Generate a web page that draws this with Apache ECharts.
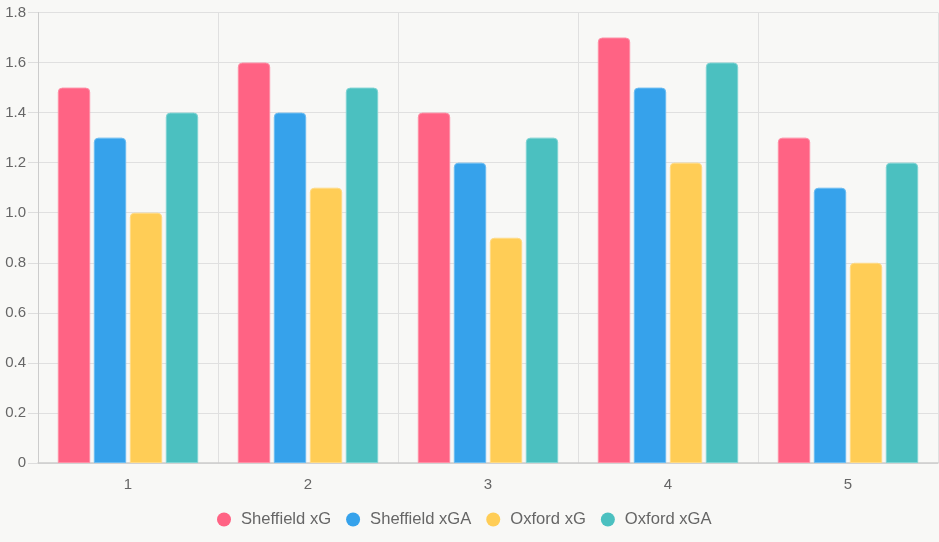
<!DOCTYPE html>
<html>
<head>
<meta charset="utf-8">
<script src="https://cdn.jsdelivr.net/npm/echarts@6/dist/echarts.min.js"></script>
<style>
  html, body { margin: 0; padding: 0; background: #f8f8f6; }
  #chart { width: 939px; height: 542px; }
</style>
</head>
<body>
<div id="chart"></div>
<script>
var categories = ['1', '2', '3', '4', '5'];
var sheffieldXG = [1.5, 1.6, 1.4, 1.7, 1.3];
var sheffieldXGA = [1.3, 1.4, 1.2, 1.5, 1.1];
var oxfordXG = [1.0, 1.1, 0.9, 1.2, 0.8];
var oxfordXGA = [1.4, 1.5, 1.3, 1.6, 1.2];

var chart = echarts.init(document.getElementById('chart'));

// bars: Chart.js-like look
function barSeries(name, color, edge, data) {
  return {
    name: name,
    type: 'bar',
    barWidth: 32.4,
    barGap: '11.1%',
    itemStyle: { color: color, borderColor: edge, borderWidth: 1, borderRadius: [4, 4, 0, 0] },
    data: data
  };
}

var option = {
  backgroundColor: '#f8f8f6',
  textStyle: { fontFamily: 'Liberation Sans, Arial, sans-serif' },
  grid: { left: 38, right: 1, top: 12.5, bottom: 79 },
  legend: {
    left: 212,
    bottom: 9,
    icon: 'circle',
    itemWidth: 14,
    itemHeight: 14,
    itemGap: 15,
    itemStyle: { borderWidth: 0 },
    textStyle: { color: '#666', fontSize: 16.6, padding: [0, 0, 0, 5] },
    data: ['Sheffield xG', 'Sheffield xGA', 'Oxford xG', 'Oxford xGA']
  },
  xAxis: {
    type: 'category',
    data: categories,
    axisLine: { lineStyle: { color: '#ccc', width: 1.5 } },
    axisTick: { length: 10, lineStyle: { color: '#ddd' } },
    axisLabel: { color: '#666', fontSize: 15, margin: 14 },
    splitLine: { show: true, lineStyle: { color: '#e0e0e0' } }
  },
  yAxis: {
    type: 'value',
    min: 0,
    max: 1.8,
    interval: 0.2,
    axisLine: { show: true, lineStyle: { color: '#ccc' } },
    axisTick: { show: true, length: 10, lineStyle: { color: '#ddd' } },
    axisLabel: {
      color: '#666',
      fontSize: 15,
      margin: 12,
      formatter: function (v) { return v === 0 ? '0' : v.toFixed(1); }
    },
    splitLine: { lineStyle: { color: '#e0e0e0' } }
  },
  series: [
    barSeries('Sheffield xG', '#ff6384', '#ff8fa6', sheffieldXG),
    barSeries('Sheffield xGA', '#36a2eb', '#6cbcf1', sheffieldXGA),
    barSeries('Oxford xG', '#ffcd56', '#ffdb86', oxfordXG),
    barSeries('Oxford xGA', '#4bc0c0', '#7fd3d3', oxfordXGA)
  ]
};

chart.setOption(option);
</script>
</body>
</html>
